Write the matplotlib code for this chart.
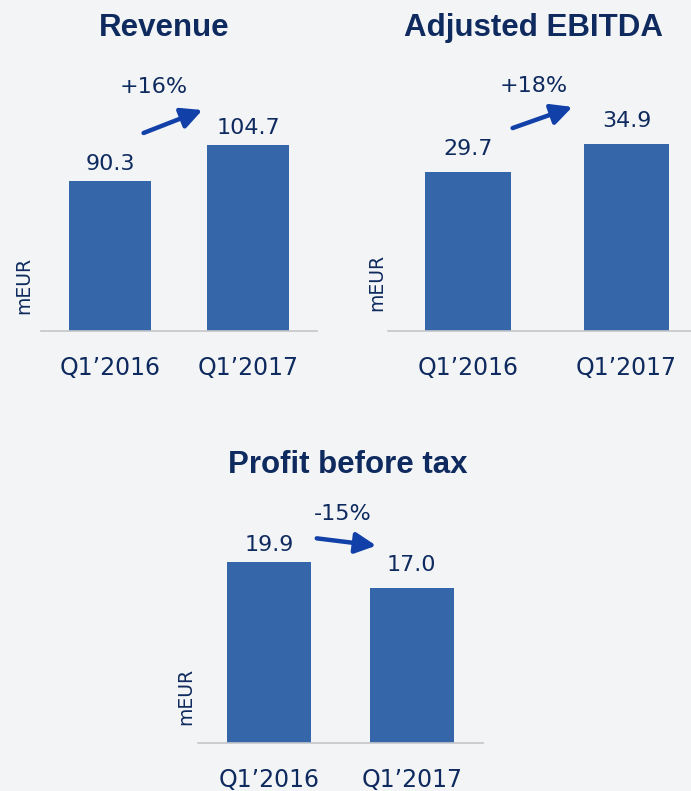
import matplotlib
matplotlib.use("Agg")
import matplotlib.pyplot as plt
from matplotlib.patches import FancyArrowPatch

# data
periods = ["Q1\u20192016", "Q1\u20192017"]
revenue = [90.3, 104.7]
ebitda = [29.7, 34.9]
pbt = [19.9, 17.0]
titles = ["Revenue", "Adjusted EBITDA", "Profit before tax"]
changes = ["+16%", "+18%", "-15%"]
unit = "mEUR"

W, H = 691, 791
NAVY = "#0e2a5e"
BAR = "#3566a9"
ARROW = "#1040a8"
BG = "#f3f4f6"

def fx(x):
    return x / W

def fy(y):
    return 1 - y / H

fig = plt.figure(figsize=(W / 100, H / 100), dpi=100, facecolor=BG)

# panel layout in pixels: x0, x1, baseline, top, y-bottom value, px per unit, xlim, bar width
panels = [
    dict(vals=revenue, box=(41, 317, 331, 100), v0=29.4, k=2.465, xlim=(-0.5, 1.5), bw=0.594,
         lab_off=[11, 11], title_xy=(164, 36), chg_xy=(154, 93),
         arrow=((141, 134), (205, 109)), unit_xy=(24, 285)),
    dict(vals=ebitda, box=(388, 691, 331, 100), v0=0.0, k=5.35, xlim=(-0.504, 1.407), bw=0.54,
         lab_off=[17, 17], title_xy=(534, 36), chg_xy=(534, 92),
         arrow=((510, 129), (575, 106)), unit_xy=(377, 282)),
    dict(vals=pbt, box=(198, 483, 743, 500), v0=0.0, k=9.09, xlim=(-0.5, 1.5), bw=0.587,
         lab_off=[11, 17], title_xy=(348, 473), chg_xy=(343, 520),
         arrow=((314, 538), (379, 546)), unit_xy=(186, 696)),
]

for p, title, chg in zip(panels, titles, changes):
    x0, x1, yb, yt = p["box"]
    ax = fig.add_axes([fx(x0), fy(yb), (x1 - x0) / W, (yb - yt) / H])
    ax.patch.set_alpha(0)
    xs = range(len(p["vals"]))
    ax.bar(xs, p["vals"], width=p["bw"], color=BAR, zorder=2)
    ax.set_xlim(*p["xlim"])
    ax.set_ylim(p["v0"], p["v0"] + (yb - yt) / p["k"])
    for s in ["top", "right", "left"]:
        ax.spines[s].set_visible(False)
    ax.spines["bottom"].set_color("#c4c6ca")
    ax.spines["bottom"].set_linewidth(1.2)
    ax.set_yticks([])
    ax.set_xticks(list(xs))
    ax.set_xticklabels(periods, fontsize=17, color=NAVY, family="DejaVu Sans")
    ax.tick_params(axis="x", length=0, pad=18)
    for i, v in enumerate(p["vals"]):
        ax.annotate(f"{v:.1f}", (i, v), xytext=(0, p["lab_off"][i] * 0.72),
                    textcoords="offset points", ha="center", va="baseline",
                    fontsize=16, color=NAVY)
    tx, ty = p["title_xy"]
    fig.text(fx(tx), fy(ty), title, ha="center", va="baseline", fontsize=22.5,
             fontweight="bold", color=NAVY, family="Liberation Sans")
    cx, cy = p["chg_xy"]
    fig.text(fx(cx), fy(cy), chg, ha="center", va="baseline", fontsize=16, color=NAVY)
    ux, uy = p["unit_xy"]
    fig.text(fx(ux), fy(uy), unit, ha="center", va="center", rotation=90,
             fontsize=13.5, color=NAVY)
    (ax0, ay0), (ax1, ay1) = p["arrow"]
    fig.add_artist(FancyArrowPatch((fx(ax0), fy(ay0)), (fx(ax1), fy(ay1)),
                                   transform=fig.transFigure,
                                   arrowstyle="-|>,head_length=0.9,head_width=0.45",
                                   mutation_scale=14, lw=3.2, color=ARROW))

fig.savefig("out.png", dpi=100, facecolor=BG)
